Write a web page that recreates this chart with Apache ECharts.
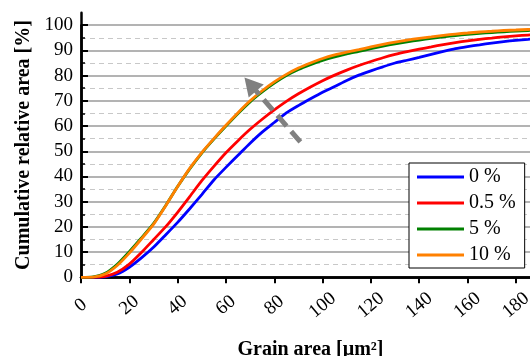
<!DOCTYPE html>
<html>
<head>
<meta charset="utf-8">
<script src="https://cdn.jsdelivr.net/npm/echarts@6/dist/echarts.min.js"></script>
<style>
  html, body { margin: 0; padding: 0; background: #fff; }
  #chart { width: 530px; height: 356px; }
</style>
</head>
<body>
<div id="chart"></div>
<script>
// grain area [µm²] sample points
const grainArea = [0, 5, 10, 15, 20, 25, 30, 35, 40, 45, 50, 55, 60, 65, 70, 75, 80, 85, 90, 95,
  100, 105, 110, 115, 120, 125, 130, 135, 140, 145, 150, 155, 160, 165, 170, 175, 180, 185, 190];

// cumulative relative area [%]
const pct0 = [0, 0, 0.2, 1.3, 4, 7.7, 11.9, 16.8, 21.8, 27.2, 32.8, 38.6, 43.6, 48.4, 53.2, 57.6, 61.4, 65.2, 68.1, 70.8,
  73.4, 75.7, 78.1, 80.2, 81.9, 83.5, 85, 86.1, 87.2, 88.4, 89.6, 90.7, 91.5, 92.2, 92.9, 93.5, 94, 94.4, 94.8];
const pct05 = [0, 0, 0.4, 2, 5.2, 9.8, 14.9, 20, 25.8, 32, 38.3, 44, 49.4, 54.2, 58.7, 62.7, 66.4, 69.8, 72.8, 75.5,
  78, 80.2, 82.2, 84, 85.6, 87.1, 88.4, 89.5, 90.5, 91.4, 92.3, 93.1, 93.8, 94.4, 94.9, 95.4, 95.8, 96.1, 96.4];
const pct5 = [0, 0.2, 1.6, 5.2, 10.2, 15.6, 21.3, 28.4, 36, 43, 49.3, 54.8, 60, 65, 69.6, 73.5, 77, 80, 82.4, 84.3,
  86, 87.4, 88.6, 89.6, 90.7, 91.7, 92.6, 93.4, 94.1, 94.8, 95.4, 95.9, 96.4, 96.8, 97.1, 97.4, 97.7, 97.9, 98.1];
const pct10 = [0, 0.1, 1.3, 4.7, 9.6, 15.2, 21, 28.3, 36, 43.2, 49.5, 55, 60.3, 65.3, 70, 74, 77.5, 80.5, 83, 85,
  86.8, 88.2, 89.3, 90.3, 91.4, 92.4, 93.3, 94.1, 94.8, 95.4, 96, 96.5, 96.9, 97.3, 97.6, 97.9, 98.1, 98.3, 98.4];

const seriesNames = ['0 %', '0.5 %', '5 %', '10 %'];
const seriesValues = [pct0, pct05, pct5, pct10];
const seriesColors = ['#0000ff', '#ff0000', '#008000', '#ff8000'];

// trend arrow (data coords): tail -> head
const arrowFrom = [90.8, 53.7];
const arrowTo = [70.1, 76.6];

const FONT = '"Liberation Serif", "Times New Roman", serif';

const chart = echarts.init(document.getElementById('chart'), null, { renderer: 'canvas' });

const series = seriesNames.map((name, i) => ({
  name,
  type: 'line',
  xAxisIndex: 0,
  yAxisIndex: 0,
  data: grainArea.map((x, k) => [x, seriesValues[i][k]]),
  showSymbol: false,
  symbol: 'none',
  smooth: 0.2,
  clip: true,
  lineStyle: { width: 2.8, color: seriesColors[i] },
  itemStyle: { color: seriesColors[i] },
  emphasis: { disabled: true },
}));

series[0].markLine = {
  silent: true,
  animation: false,
  symbol: ['none', 'triangle'],
  symbolSize: [20, 18],
  label: { show: false },
  lineStyle: { color: '#808080', width: 5, type: [14, 7], opacity: 1 },
  emphasis: { disabled: true },
  data: [[{ coord: arrowFrom }, { coord: arrowTo }]],
};

chart.setOption({
  animation: false,
  backgroundColor: '#fff',
  grid: [
    { left: 81, top: 25.2, width: 459, height: 252.1, outerBoundsMode: 'none', containLabel: false },
    { left: 81, top: 12.7, width: 459, height: 264.6, outerBoundsMode: 'none', containLabel: false },
  ],
  legend: {
    data: seriesNames,
    orient: 'vertical',
    left: 409,
    top: 163,
    icon: 'rect',
    itemWidth: 47,
    itemHeight: 3,
    itemGap: 6,
    padding: [4, 9, 3, 8],
    backgroundColor: '#fff',
    borderColor: '#000',
    borderWidth: 1,
    textStyle: { fontFamily: FONT, fontSize: 20, color: '#000' },
  },
  xAxis: [
    {
      type: 'value', gridIndex: 0, position: 'bottom',
      min: 0, max: 190, interval: 20,
      name: 'Grain area [µm²]', nameLocation: 'middle', nameGap: 63, nameMoveOverlap: false,
      nameTextStyle: { fontFamily: FONT, fontSize: 20, fontWeight: 'bold', color: '#000' },
      axisLine: { lineStyle: { color: '#000', width: 2.5 } },
      axisTick: { inside: false, length: 6, lineStyle: { color: '#000', width: 2 } },
      axisLabel: {
        rotate: 40, align: 'center', verticalAlign: 'middle', margin: 28,
        showMaxLabel: false,
        fontFamily: FONT, fontSize: 19, color: '#000',
      },
      splitLine: { show: false },
    },
    {
      type: 'value', gridIndex: 1, position: 'top',
      min: 0, max: 190, interval: 20,
      axisLine: { lineStyle: { color: '#000', width: 2.5 } },
      axisTick: { inside: true, length: 6, lineStyle: { color: '#000', width: 2 } },
      axisLabel: { show: false },
      splitLine: { show: false },
    },
  ],
  yAxis: [
    {
      type: 'value', gridIndex: 0, position: 'left',
      min: 0, max: 100, interval: 10,
      axisLine: { lineStyle: { color: '#000', width: 2.5 } },
      axisTick: { inside: true, length: 7, lineStyle: { color: '#000', width: 2 } },
      minorTick: { show: true, splitNumber: 2, length: 4, lineStyle: { color: '#000', width: 1.5 } },
      axisLabel: { margin: 8, fontFamily: FONT, fontSize: 19, color: '#000' },
      splitLine: { show: true, lineStyle: { color: '#9a9a9a', width: 1.5 } },
      minorSplitLine: { show: true, lineStyle: { color: '#c8c8c8', width: 1, type: [5, 4] } },
    },
    {
      type: 'value', gridIndex: 1, position: 'left',
      min: 0, max: 105,
      name: 'Cumulative relative area [%]', nameLocation: 'middle', nameGap: 47, nameMoveOverlap: false,
      nameTextStyle: { fontFamily: FONT, fontSize: 20, fontWeight: 'bold', color: '#000' },
      axisLine: { lineStyle: { color: '#000', width: 2.5 } },
      axisTick: { show: false },
      axisLabel: { show: false },
      splitLine: { show: false },
    },
  ],
  series,
});
</script>
</body>
</html>
